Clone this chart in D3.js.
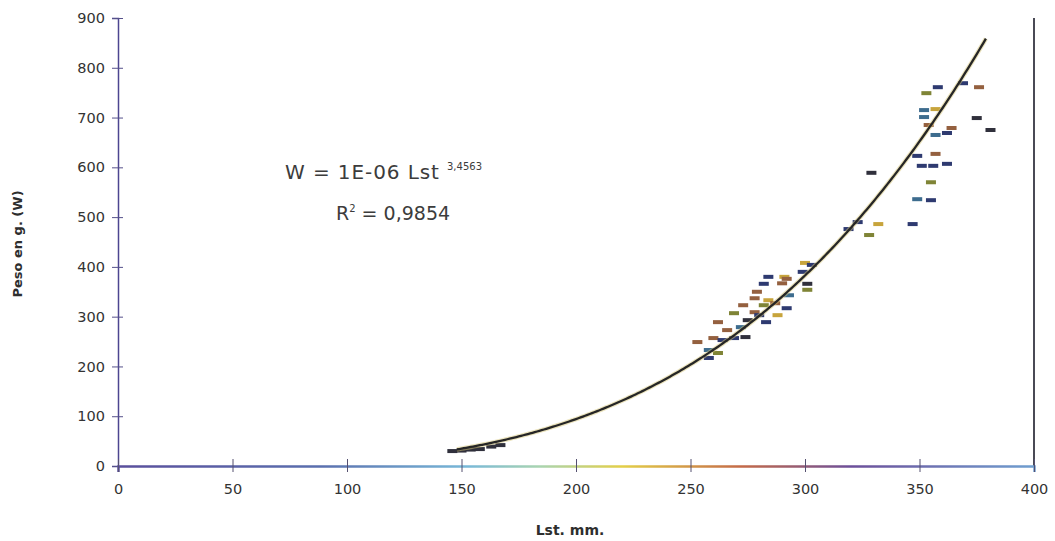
<!DOCTYPE html>
<html>
<head>
<meta charset="utf-8">
<script src="https://cdn.jsdelivr.net/npm/d3@7"></script>
<style>
  body { margin: 0; background: #fff; }
  text { font-family: "DejaVu Sans", sans-serif; }
</style>
</head>
<body>
<div id="chart"></div>
<script>
// Longitud estandar (mm), peso (g) y muestra de cada pez
var lst = [
  146, 150, 154, 156, 158, 163, 167,
  300, 303, 299, 284, 291, 292, 282, 290, 301, 301, 279, 278, 284, 293,
  282, 287, 292, 273, 269, 278, 288, 275, 283, 280, 262, 272, 266, 274,
  269, 260, 264, 253, 258, 262, 258,
  358, 353, 369, 376, 352, 357, 352, 375, 354, 364, 362, 357, 381, 349,
  357, 351, 356, 362, 355, 329, 349, 355, 347, 332, 328, 319, 323
];
var peso = [
  30, 31, 33, 35, 34, 39, 42,
  408, 404, 390, 380, 380, 376, 366, 367, 366, 354, 350, 337, 333, 343,
  323, 327, 317, 323, 307, 309, 303, 293, 289, 303, 289, 279, 273, 259,
  257, 257, 253, 249, 233, 227, 217,
  761, 749, 769, 761, 715, 717, 701, 699, 685, 679, 669, 665, 675, 623,
  627, 603, 603, 607, 570, 589, 536, 534, 486, 486, 464, 476, 490
];
var muestra = [
  5, 5, 5, 5, 5, 5, 5,
  3, 0, 0, 0, 3, 2, 0, 2, 5, 1, 2, 2, 3, 4,
  1, 2, 0, 2, 1, 2, 3, 5, 0, 0, 2, 4, 2, 5,
  0, 2, 0, 2, 4, 1, 0,
  0, 1, 0, 2, 4, 3, 4, 5, 2, 2, 0, 4, 5, 0,
  2, 0, 0, 0, 1, 5, 4, 0, 0, 3, 1, 0, 0
];

var xTicks = [0, 50, 100, 150, 200, 250, 300, 350, 400];
var yTicks = [0, 100, 200, 300, 400, 500, 600, 700, 800, 900];

// Linea de tendencia potencial W = a * Lst^b
var coefA = 1.05e-6, expB = 3.4563;
var curvaDesde = 148, curvaHasta = 379;

var data = lst.map(function (d, i) { return { l: d, w: peso[i], m: muestra[i] }; });

var margin = { top: 18, right: 21, bottom: 75, left: 118 },
    width = 1055 - margin.left - margin.right,
    height = 541 - margin.top - margin.bottom;

var svg = d3.select("#chart")
    .append("svg")
    .attr("width", 1055)
    .attr("height", 541);

var defs = svg.append("defs");

function gradient(id, stops) {
    var g = defs.append("linearGradient").attr("id", id)
        .attr("x1", "0%").attr("x2", "100%").attr("y1", "0%").attr("y2", "0%");
    stops.forEach(function (s) {
        g.append("stop").attr("offset", s[0]).attr("stop-color", s[1]);
    });
}
gradient("gBottom", [["0%", "#5a4f9c"], ["22%", "#5a6fae"], ["38%", "#78b8d8"], ["46%", "#a9d4b0"], ["55%", "#e3cf48"], ["68%", "#c46a48"], ["80%", "#6c4f9a"], ["100%", "#6f9fd0"]]);
gradient("gTop", [["0%", "#4b4f98"], ["30%", "#6fa8cc"], ["45%", "#7ab4cf"], ["55%", "#e6cf60"], ["75%", "#c9a070"], ["88%", "#9a6a9a"], ["100%", "#6e4f9c"]]);

var g = svg.append("g")
    .attr("transform", "translate(" + margin.left + "," + margin.top + ")");

var x = d3.scaleLinear().domain([0, 400]).range([0, width]);
var y = d3.scaleLinear().domain([0, 900]).range([height, 0]);

// Marco del area de trazado
g.append("line").attr("x1", 0).attr("x2", width).attr("y1", 0).attr("y2", 0)
    .attr("stroke", "url(#gTop)").attr("stroke-width", 2);
g.append("line").attr("x1", width).attr("x2", width).attr("y1", 0).attr("y2", height)
    .attr("stroke", "#4a4a55").attr("stroke-width", 2);

// Eje Y
var yAxis = g.append("g")
    .call(d3.axisLeft(y).tickValues(yTicks).tickSize(6).tickPadding(7));
yAxis.select(".domain").attr("stroke", "#4d4690").attr("stroke-width", 1.5);
yAxis.selectAll(".tick line").attr("x1", -6).attr("x2", 5).attr("stroke", "#55508a");
yAxis.selectAll(".tick text")
    .attr("font-size", 14.5).attr("fill", "#333")
    .style("font-family", "DejaVu Sans, sans-serif");

// Eje X
var xAxis = g.append("g")
    .attr("transform", "translate(0," + height + ")")
    .call(d3.axisBottom(x).tickValues(xTicks).tickSize(6).tickPadding(12));
xAxis.select(".domain").attr("stroke", "url(#gBottom)").attr("stroke-width", 2.5);
xAxis.selectAll(".tick line").attr("y1", -7).attr("y2", 6).attr("stroke", "#555070");
xAxis.selectAll(".tick text")
    .attr("font-size", 14.5).attr("fill", "#333")
    .style("font-family", "DejaVu Sans, sans-serif");

// Titulos de ejes
svg.append("text")
    .attr("x", margin.left + x(200) - 6).attr("y", 535)
    .attr("text-anchor", "middle")
    .attr("font-size", 14).attr("font-weight", "bold").attr("fill", "#2e2e2e")
    .text("Lst. mm.");

svg.append("text")
    .attr("transform", "translate(22," + (margin.top + y(450) + 2) + ") rotate(-90)")
    .attr("text-anchor", "middle")
    .attr("font-size", 13).attr("font-weight", "bold").attr("fill", "#2e2e2e")
    .text("Peso en g. (W)");

// Puntos (marcadores de guion)
var color = d3.scaleOrdinal()
    .domain([0, 1, 2, 3, 4, 5])
    .range(["#2e3a70", "#7f8436", "#94603f", "#c7a43c", "#3d6c8e", "#30303c"]);

g.selectAll("rect.pt")
    .data(data)
    .enter().append("rect")
    .attr("class", "pt")
    .attr("x", function (d) { return x(d.l) - 5; })
    .attr("y", function (d) { return y(d.w) - 2; })
    .attr("width", 10)
    .attr("height", 4)
    .attr("fill", function (d) { return color(d.m); });

// Linea de tendencia
var curva = d3.range(curvaDesde, curvaHasta + 0.5, 1).map(function (l) {
    return { l: l, w: coefA * Math.pow(l, expB) };
});
var linea = d3.line().x(function (d) { return x(d.l); }).y(function (d) { return y(d.w); });
g.append("path")
    .datum(curva)
    .attr("fill", "none")
    .attr("stroke", "#d8c87a")
    .attr("stroke-opacity", 0.5)
    .attr("stroke-width", 4.5)
    .attr("d", linea);
g.append("path")
    .datum(curva)
    .attr("fill", "none")
    .attr("stroke", "#262626")
    .attr("stroke-width", 2.3)
    .attr("d", linea);

// Ecuacion
var eq = svg.append("text")
    .attr("x", 285).attr("y", 179)
    .attr("font-size", 20).attr("fill", "#3c3c3c").attr("letter-spacing", 0.9);
eq.append("tspan").text("W = 1E-06 Lst ");
eq.append("tspan").attr("font-size", 10).attr("dy", -9).attr("letter-spacing", 0).text("3,4563");

var r2 = svg.append("text")
    .attr("x", 336).attr("y", 220)
    .attr("font-size", 19).attr("fill", "#3c3c3c");
r2.append("tspan").text("R");
r2.append("tspan").attr("font-size", 10).attr("dy", -8).text("2");
r2.append("tspan").attr("dy", 8).text(" = 0,9854");
</script>
</body>
</html>
